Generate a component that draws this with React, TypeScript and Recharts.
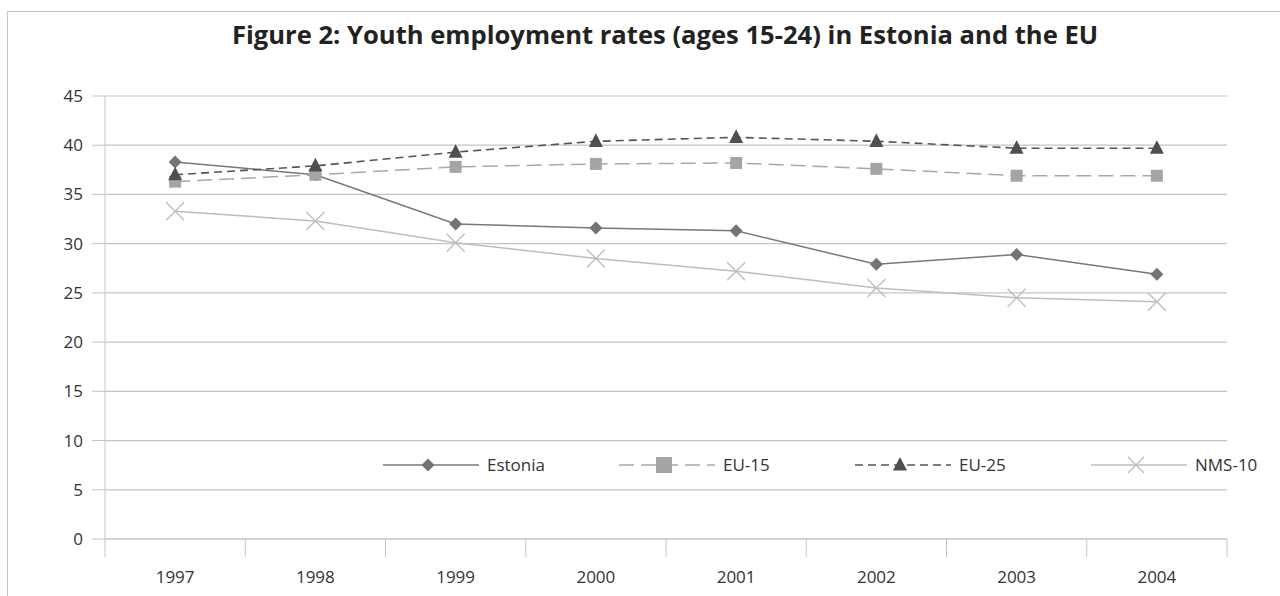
import { LineChart, Line, XAxis, YAxis, CartesianGrid, Legend } from 'recharts';

const years = ['1997', '1998', '1999', '2000', '2001', '2002', '2003', '2004'];
const estonia = [38.3, 37.0, 32.0, 31.6, 31.3, 27.9, 28.9, 26.9];
const eu15 = [36.3, 37.0, 37.8, 38.1, 38.2, 37.6, 36.9, 36.9];
const eu25 = [37.0, 37.9, 39.3, 40.4, 40.8, 40.4, 39.7, 39.7];
const nms10 = [33.3, 32.3, 30.1, 28.5, 27.2, 25.5, 24.5, 24.1];
const yTicks = [0, 5, 10, 15, 20, 25, 30, 35, 40, 45];

const data = years.map((year, i) => ({
  year,
  estonia: estonia[i],
  eu15: eu15[i],
  eu25: eu25[i],
  nms10: nms10[i],
}));

const FONT = '"Open Sans", sans-serif';
const W = 1280;
const H = 596;
const PLOT_LEFT = 105;
const PLOT_RIGHT = 1227;
const PLOT_TOP = 96;
const PLOT_BOTTOM = 539;
const HALF_BAND = (PLOT_RIGHT - PLOT_LEFT) / years.length / 2;

const GRID = '#c4c4c4';
const TEXT = '#333333';

// markers
const diamond = (cx: number, cy: number, r: number, fill: string, key?: string) => (
  <path key={key} d={`M${cx} ${cy - r}L${cx + r} ${cy}L${cx} ${cy + r}L${cx - r} ${cy}Z`} fill={fill} />
);
const square = (cx: number, cy: number, r: number, fill: string, key?: string) => (
  <rect key={key} x={cx - r} y={cy - r} width={r * 2} height={r * 2} fill={fill} />
);
const triangle = (cx: number, cy: number, r: number, fill: string, key?: string) => (
  <path key={key} d={`M${cx} ${cy - r * 1.15}L${cx + r} ${cy + r * 0.8}L${cx - r} ${cy + r * 0.8}Z`} fill={fill} />
);
const cross = (cx: number, cy: number, r: number, stroke: string, key?: string) => (
  <path key={key} d={`M${cx - r} ${cy - r}L${cx + r} ${cy + r}M${cx - r} ${cy + r}L${cx + r} ${cy - r}`} stroke={stroke} strokeWidth={1.3} fill="none" />
);

const series = [
  { key: 'estonia', name: 'Estonia', color: '#78787b', width: 1.5, dash: undefined, fill: '#747477', marker: diamond, r: 6.5, lr: 6.5 },
  { key: 'eu15', name: 'EU-15', color: '#a8a8aa', width: 1.5, dash: '15 7', fill: '#a5a5a8', marker: square, r: 6, lr: 8 },
  { key: 'eu25', name: 'EU-25', color: '#555557', width: 1.6, dash: '8 5', fill: '#4f4f52', marker: triangle, r: 7, lr: 7 },
  { key: 'nms10', name: 'NMS-10', color: '#bdbdbd', width: 1.5, dash: undefined, fill: '#bdbdbd', marker: cross, r: 9, lr: 8 },
];

const XTick = (props: any) => {
  const { x, y, payload, index } = props;
  return (
    <g>
      <line x1={x - HALF_BAND} x2={x - HALF_BAND} y1={y} y2={y + 18} stroke={GRID} />
      {index === years.length - 1 && (
        <line x1={x + HALF_BAND} x2={x + HALF_BAND} y1={y} y2={y + 18} stroke={GRID} />
      )}
      <text x={x} y={y + 44} textAnchor="middle" fill={TEXT} fontSize={17} fontFamily={FONT}>
        {payload.value}
      </text>
    </g>
  );
};

const LegendBox = () => (
  <div style={{ display: 'flex', alignItems: 'center', fontFamily: FONT, fontSize: 17, color: TEXT, whiteSpace: 'nowrap' }}>
    {series.map((s) => (
      <div key={s.key} style={{ display: 'flex', alignItems: 'center', width: 236, flexShrink: 0 }}>
        <svg width={96} height={24}>
          <line x1={0} x2={96} y1={12} y2={12} stroke={s.color} strokeWidth={s.width} strokeDasharray={s.dash} />
          {s.marker(45, 12, s.lr, s.fill)}
        </svg>
        <span style={{ marginLeft: 8, lineHeight: '24px' }}>{s.name}</span>
      </div>
    ))}
  </div>
);

export default function App() {
  return (
    <div style={{ position: 'fixed', left: 0, top: 0, width: W, height: H, overflow: 'hidden', background: '#fff' }}>
      <div
        style={{
          position: 'absolute', left: 7, top: 11, width: 1400, height: 700,
          borderTop: '1px solid #c6c6c6', borderLeft: '1px solid #c6c6c6',
        }}
      />
      <div
        style={{
          position: 'absolute', left: 0, width: 1330, top: 19, textAlign: 'center',
          fontFamily: FONT, fontWeight: 700, fontSize: 25.6, color: '#222', lineHeight: '32px',
        }}
      >
        Figure 2: Youth employment rates (ages 15-24) in Estonia and the EU
      </div>
      <div style={{ position: 'absolute', left: 0, top: 0 }}>
        <LineChart
          width={W}
          height={H}
          data={data}
          margin={{ top: PLOT_TOP, right: W - PLOT_RIGHT, bottom: 0, left: 0 }}
        >
          <CartesianGrid vertical={false} stroke={GRID} strokeWidth={1.2} />
          <XAxis
            dataKey="year"
            height={H - PLOT_BOTTOM}
            padding={{ left: HALF_BAND, right: HALF_BAND }}
            axisLine={{ stroke: GRID }}
            tickLine={false}
            tickSize={0}
            tickMargin={0}
            interval={0}
            tick={<XTick />}
          />
          <YAxis
            width={PLOT_LEFT}
            domain={[0, 45]}
            ticks={yTicks}
            axisLine={{ stroke: GRID }}
            tickLine={{ stroke: GRID }}
            tickSize={13}
            tickMargin={9}
            tick={{ fill: TEXT, fontSize: 17, fontFamily: FONT }}
          />
          <Legend
            verticalAlign="middle"
            align="center"
            layout="horizontal"
            content={() => <LegendBox />}
            wrapperStyle={{ position: 'absolute', left: 383, top: 453, width: 950, height: 24 }}
          />
          {series.map((s) => (
            <Line
              key={s.key}
              dataKey={s.key}
              name={s.name}
              stroke={s.color}
              strokeWidth={s.width}
              strokeDasharray={s.dash}
              isAnimationActive={false}
              dot={(p: any) => s.marker(p.cx, p.cy, s.r, s.fill, `${s.key}-${p.index}`)}
              activeDot={false}
            />
          ))}
        </LineChart>
      </div>
    </div>
  );
}
